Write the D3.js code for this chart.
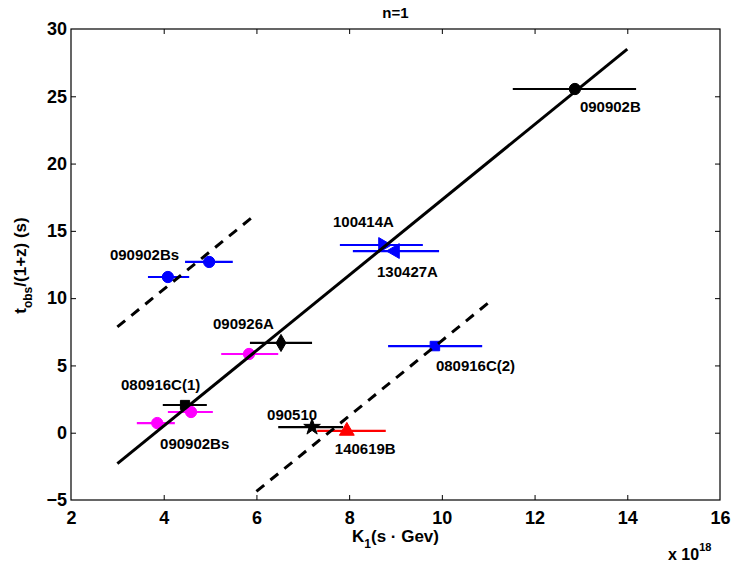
<!DOCTYPE html>
<html>
<head>
<meta charset="utf-8">
<script src="https://cdn.jsdelivr.net/npm/d3@7"></script>
<style>
  body { margin: 0; background: #fff; }
  text { font-family: "Liberation Sans", Arial, sans-serif; font-weight: bold; }
</style>
</head>
<body>
<div id="graph"></div>
<script>
// GRB points: K1 (x 1e18 s·GeV) with horizontal error bar, t_obs/(1+z)
const grbKind = ["090902B", "100414A", "130427A", "080916C(2)", "090902Bs", "090902Bs",
  "090926A", "magenta", "080916C(1)", "magenta", "magenta", "090510", "140619B"];
const kValues = [12.87, 8.73, 8.99, 9.85, 4.09, 4.98, 6.53, 5.84, 4.46, 3.86, 4.59, 7.20, 7.95];
const kLow    = [11.53, 7.80, 8.08, 8.84, 3.66, 4.46, 5.86, 5.24, 3.98, 3.42, 4.09, 6.47, 7.31];
const kHigh   = [14.19, 9.59, 9.94, 10.87, 4.55, 5.49, 7.20, 6.47, 4.93, 4.24, 5.06, 7.87, 8.79];
const tValues = [25.54, 13.95, 13.50, 6.44, 11.57, 12.69, 6.67, 5.85, 2.06, 0.72, 1.54, 0.42, 0.13];

// fitted lines t = slope*K + intercept
const fitSlope = 2.8;
const fitIntercepts = [-10.7, -0.54, -21.16];
const fitFrom = [3, 3, 6];
const fitTo = [14.0, 6, 11];

const xTicks = [2, 4, 6, 8, 10, 12, 14, 16];
const yTicks = [-5, 0, 5, 10, 15, 20, 25, 30];

// labels: text and which point they belong to
const labelText = ["090902B", "100414A", "130427A", "080916C(2)", "090902Bs", "090926A",
  "080916C(1)", "090902Bs", "090510", "140619B"];
const labelPoint = [0, 1, 2, 3, 4, 6, 8, 10, 11, 12];

// styling (not data)
const labelOffset = [[5, 23], [-50, -18], [-18, 26], [1, 25], [-58, -17], [-68, -14],
  [-64, -15], [-31, 37], [-45, -7], [-12, 23]];
const pointStyle = {
  "090902B":    { color: "#000", shape: d3.symbolCircle, size: 100, rot: 0 },
  "100414A":    { color: "#00f", shape: d3.symbolTriangle, size: 95, rot: 90 },
  "130427A":    { color: "#00f", shape: d3.symbolTriangle, size: 95, rot: -90 },
  "080916C(2)": { color: "#00f", shape: d3.symbolSquare, size: 90, rot: 0 },
  "090902Bs":   { color: "#00f", shape: d3.symbolCircle, size: 100, rot: 0 },
  "090926A":    { color: "#000", shape: d3.symbolDiamond, size: 85, rot: 0 },
  "magenta":    { color: "#f0f", shape: d3.symbolCircle, size: 100, rot: 0 },
  "080916C(1)": { color: "#000", shape: d3.symbolSquare, size: 85, rot: 0 },
  "090510":     { color: "#000", shape: d3.symbolStar, size: 85, rot: 0 },
  "140619B":    { color: "#f00", shape: d3.symbolTriangle, size: 95, rot: 0 }
};

const W = 732, H = 566;
const margin = { top: 29, right: 12, bottom: 66, left: 71 },
  width = W - margin.left - margin.right,
  height = H - margin.top - margin.bottom;

const svg = d3.select("#graph").append("svg")
  .attr("width", W).attr("height", H)
  .style("display", "block");

const g = svg.append("g")
  .attr("transform", "translate(" + margin.left + "," + margin.top + ")");

const x = d3.scaleLinear().domain([2, 16]).range([0, width]);
const y = d3.scaleLinear().domain([-5, 30]).range([height, 0]);

// axes with inward ticks on all four sides
const tickLen = 5;
const xAxis = g.append("g").attr("transform", "translate(0," + height + ")")
  .call(d3.axisBottom(x).tickValues(xTicks).tickSizeInner(-tickLen).tickSizeOuter(0).tickPadding(11));
const xTop = g.append("g")
  .call(d3.axisTop(x).tickValues(xTicks).tickSizeInner(-tickLen).tickSizeOuter(0).tickFormat(""));
const yAxis = g.append("g")
  .call(d3.axisLeft(y).tickValues(yTicks).tickSizeInner(-tickLen).tickSizeOuter(0).tickPadding(4)
    .tickFormat(d => d < 0 ? "\u2212" + Math.abs(d) : d));
const yRight = g.append("g").attr("transform", "translate(" + width + ",0)")
  .call(d3.axisRight(y).tickValues(yTicks).tickSizeInner(-tickLen).tickSizeOuter(0).tickFormat(""));

[xAxis, xTop, yAxis, yRight].forEach(a => {
  a.select(".domain").remove();
  a.selectAll(".tick line").attr("stroke", "#000").attr("stroke-width", 1);
  a.selectAll("text").style("font-size", "18px").attr("fill", "#000");
});
// hide the end ticks that sit on the box
g.selectAll(".tick").filter(d => d === 2 || d === 16 || d === -5 || d === 30)
  .select("line").remove();

g.append("rect").attr("width", width).attr("height", height)
  .attr("fill", "none").attr("stroke", "#000").attr("stroke-width", 1.2);

// error bars and markers
const idx = d3.range(kValues.length);
g.selectAll(".ebar").data(idx).enter().append("line")
  .attr("x1", i => x(kLow[i])).attr("x2", i => x(kHigh[i]))
  .attr("y1", i => y(tValues[i])).attr("y2", i => y(tValues[i]))
  .attr("stroke", i => pointStyle[grbKind[i]].color)
  .attr("stroke-width", 2.2);

g.selectAll(".marker").data(idx).enter().append("path")
  .attr("d", i => d3.symbol().type(pointStyle[grbKind[i]].shape).size(pointStyle[grbKind[i]].size)())
  .attr("transform", i => "translate(" + x(kValues[i]) + "," + y(tValues[i]) + ") rotate(" + pointStyle[grbKind[i]].rot + ")")
  .attr("fill", i => pointStyle[grbKind[i]].color)
  .attr("stroke", i => pointStyle[grbKind[i]].color)
  .attr("stroke-width", 1);

// fit lines
g.selectAll(".fit").data(fitIntercepts).enter().append("line")
  .attr("x1", (b, i) => x(fitFrom[i])).attr("x2", (b, i) => x(fitTo[i]))
  .attr("y1", (b, i) => y(fitSlope * fitFrom[i] + b))
  .attr("y2", (b, i) => y(fitSlope * fitTo[i] + b))
  .attr("stroke", "#000").attr("stroke-width", 3)
  .attr("stroke-dasharray", (b, i) => i === 0 ? null : "10,8");

// point labels
g.selectAll(".lbl").data(labelText).enter().append("text")
  .attr("x", (t, i) => x(kValues[labelPoint[i]]) + labelOffset[i][0])
  .attr("y", (t, i) => y(tValues[labelPoint[i]]) + labelOffset[i][1])
  .style("font-size", "15px")
  .text(t => t);

// title
svg.append("text").attr("x", margin.left + width / 2).attr("y", 18)
  .attr("text-anchor", "middle").style("font-size", "15px").text("n=1");

// x label
const xl = svg.append("text").attr("x", margin.left + width / 2).attr("y", 542)
  .attr("text-anchor", "middle").style("font-size", "17px");
xl.append("tspan").text("K");
xl.append("tspan").attr("dy", 6).style("font-size", "12px").text("1");
xl.append("tspan").attr("dy", -6).text("(s \u00b7 Gev)");

// multiplier
const mx = svg.append("text").attr("x", 668).attr("y", 560).style("font-size", "16px");
mx.append("tspan").text("x 10");
mx.append("tspan").attr("dy", -9).style("font-size", "11px").text("18");

// y label
const yl = svg.append("text")
  .attr("transform", "translate(26," + (margin.top + height / 2 + 1) + ") rotate(-90)")
  .attr("text-anchor", "middle").style("font-size", "17px");
yl.append("tspan").text("t");
yl.append("tspan").attr("dy", 6).style("font-size", "12px").text("obs");
yl.append("tspan").attr("dy", -6).text("/(1+z) (s)");
</script>
</body>
</html>
